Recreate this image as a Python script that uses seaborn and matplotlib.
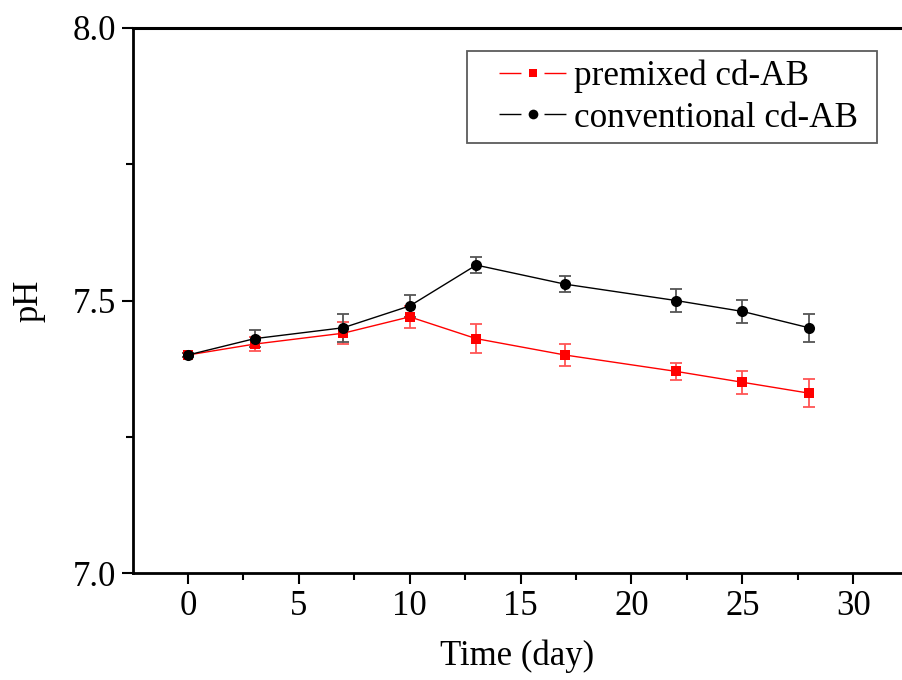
import matplotlib
matplotlib.use("Agg")
import matplotlib.pyplot as plt
import seaborn as sns
import pandas as pd
import numpy as np
from matplotlib.ticker import MultipleLocator, FormatStrFormatter
from matplotlib.lines import Line2D
from matplotlib.legend_handler import HandlerLine2D

days = [0, 3, 7, 10, 13, 17, 22, 25, 28]
premixed = [7.40, 7.42, 7.44, 7.47, 7.43, 7.40, 7.37, 7.35, 7.33]
premixed_err = [0.004, 0.013, 0.02, 0.02, 0.026, 0.02, 0.015, 0.021, 0.026]
conventional = [7.40, 7.43, 7.45, 7.49, 7.565, 7.53, 7.50, 7.48, 7.45]
conventional_err = [0.004, 0.015, 0.026, 0.02, 0.015, 0.015, 0.021, 0.021, 0.026]
series_names = ["premixed cd-AB", "conventional cd-AB"]

sns.set_theme(style="white")
plt.rcParams["font.family"] = ["Liberation Serif", "DejaVu Serif"]
plt.rcParams["mathtext.fontset"] = "stix"
plt.rcParams["text.color"] = "black"
plt.rcParams["axes.labelcolor"] = "black"
plt.rcParams["xtick.color"] = "black"
plt.rcParams["ytick.color"] = "black"

df = pd.DataFrame({
    "Time": days * 2,
    "pH": premixed + conventional,
    "err": premixed_err + conventional_err,
    "series": [series_names[0]] * len(days) + [series_names[1]] * len(days),
})

fig = plt.figure(figsize=(9.02, 6.8), dpi=100)
ax = fig.add_axes([133 / 902, 1 - 573 / 680, 1 - 133 / 902, (573 - 28) / 680])

palette = {series_names[0]: "#ff0000", series_names[1]: "#000000"}
markers = {series_names[0]: "s", series_names[1]: "o"}
ecolors = {series_names[0]: "#ff5555", series_names[1]: "#555555"}
sizes = {series_names[0]: 7.0, series_names[1]: 8.0}

for name in series_names:
    sub = df[df["series"] == name]
    ax.errorbar(sub["Time"], sub["pH"], yerr=sub["err"], fmt="none",
                ecolor=ecolors[name], elinewidth=1.3, capsize=4.2, capthick=1.3, zorder=2)

sns.lineplot(data=df, x="Time", y="pH", hue="series", style="series",
             palette=palette, markers=markers, dashes=False, linewidth=1.0,
             markersize=8, markeredgewidth=0, ax=ax, legend=False, zorder=3)
for line, name in zip(ax.get_lines()[-2:], series_names):
    line.set_markersize(sizes[name])

ax.set_xlim(-2.48, 32.2)
ax.set_ylim(7.0, 8.0)
ax.xaxis.set_major_locator(MultipleLocator(5))
ax.xaxis.set_minor_locator(MultipleLocator(2.5))
ax.yaxis.set_major_locator(MultipleLocator(0.5))
ax.yaxis.set_minor_locator(MultipleLocator(0.25))
ax.tick_params(axis="both", which="major", direction="out", length=8, width=1.5,
               labelsize=25, color="black", labelcolor="black", pad=4,
               bottom=True, left=True, top=False, right=False)
ax.tick_params(axis="both", which="minor", direction="out", length=5, width=1.5,
               bottom=True, left=True, top=False, right=False)
ax.yaxis.set_major_formatter(FormatStrFormatter("%.1f"))

for side in ["left", "bottom", "top"]:
    ax.spines[side].set_visible(True)
    ax.spines[side].set_color("black")
    ax.spines[side].set_linewidth(2.0)
ax.spines["top"].set_linewidth(2.2)
ax.spines["right"].set_visible(False)

ax.set_xlabel("Time (day)", fontsize=25, color="black", labelpad=12)
ax.set_ylabel("pH", fontsize=25, color="black", labelpad=20)

# legend: line - marker - line with gaps
dash = (0, (15.8, 16.6, 15.8))
handles = [
    Line2D([], [], color="#ff0000", marker="s", markersize=6, markeredgewidth=0,
           linewidth=1.0, linestyle=dash),
    Line2D([], [], color="#000000", marker="o", markersize=7, markeredgewidth=0,
           linewidth=1.0, linestyle=dash),
]
x0 = (466.7 - 133) / 769
w = (877 - 466.7) / 769
top = 1 - (51 - 28) / 545
leg = ax.legend(handles, series_names, loc="upper left",
                bbox_to_anchor=(x0, 0.5, w, top - 0.5), mode="expand",
                fontsize=25.3, frameon=True, fancybox=False, edgecolor="#333333",
                handlelength=2.59, handletextpad=0.23, borderpad=0.24, labelspacing=0.25,
                borderaxespad=0, handler_map={Line2D: HandlerLine2D(xpad=0.68)})
leg.get_frame().set_linewidth(1.3)
for t in leg.get_texts():
    t.set_color("black")

fig.savefig("out.png", dpi=100)
